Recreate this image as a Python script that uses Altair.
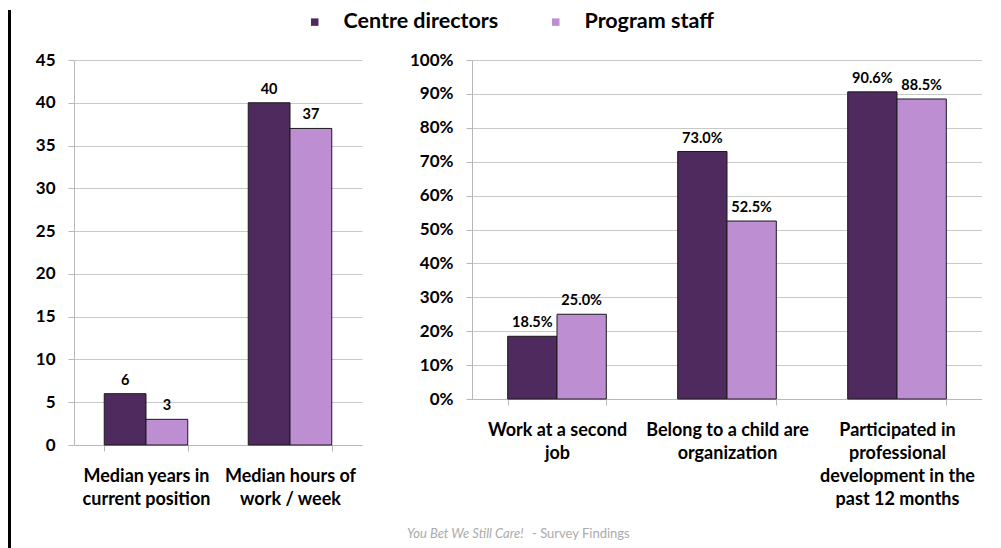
import altair as alt
import pandas as pd

FONT = "Lato"

series = ["Centre directors", "Program staff"]
colors = ["#4f2a5e", "#be8ed2"]

left_categories = ["Median years in|current position", "Median hours of|work / week"]
left_directors = [6, 40]
left_staff = [3, 37]
left_ticks = [0, 5, 10, 15, 20, 25, 30, 35, 40, 45]

right_categories = [
    "Work at a second|job",
    "Belong to a child are|organization",
    "Participated in|professional|development in the|past 12 months",
]
right_directors = [0.185, 0.730, 0.906]
right_staff = [0.250, 0.525, 0.885]
right_ticks = [0, 0.1, 0.2, 0.3, 0.4, 0.5, 0.6, 0.7, 0.8, 0.9, 1.0]

footer_italic = "You Bet We Still Care!"
footer_plain = "- Survey Findings"


def make_df(cats, a, b):
    rows = []
    for c, va, vb in zip(cats, a, b):
        rows.append({"category": c, "series": series[0], "value": va})
        rows.append({"category": c, "series": series[1], "value": vb})
    return pd.DataFrame(rows)


color_legend = alt.Legend(
    orient="none", legendX=230, legendY=-49, direction="horizontal", title=None,
    symbolType="square", symbolSize=56, symbolStrokeWidth=0, symbolOpacity=1,
    labelFont=FONT, labelFontSize=21.5, labelFontWeight="bold", labelColor="black",
    labelOffset=18, columnPadding=46, padding=0,
)


def panel(df, cats, ticks, dmax, fmt_axis, fmt_label):
    base = alt.Chart(df).encode(
        x=alt.X(
            "category:N", sort=cats,
            scale=alt.Scale(paddingInner=0.42, paddingOuter=0.21),
            axis=alt.Axis(title=None, labelAngle=0, labelExpr="split(datum.label, '|')",
                          tickBand="extent", labelLimit=400, labelOverlap=False),
        ),
        xOffset=alt.XOffset("series:N", sort=series,
                            scale=alt.Scale(paddingInner=0, paddingOuter=0)),
        y=alt.Y("value:Q", scale=alt.Scale(domain=[0, dmax], nice=False),
                axis=alt.Axis(title=None, values=ticks, format=fmt_axis)),
    )
    bars = base.mark_bar(stroke="#1a1a1a", strokeWidth=1).encode(
        color=alt.Color("series:N", scale=alt.Scale(domain=series, range=colors),
                        legend=color_legend)
    )
    labels = base.mark_text(dy=-9, baseline="alphabetic", font=FONT, fontSize=14.5,
                            fontWeight="bold", color="black").encode(
        text=alt.Text("value:Q", format=fmt_label)
    )
    return bars, labels


left_df = make_df(left_categories, left_directors, left_staff)
right_df = make_df(right_categories, right_directors, right_staff)

lb, ll = panel(left_df, left_categories, left_ticks, 45, "d", "d")
rb, rl = panel(right_df, right_categories, right_ticks, 1.0, ".0%", ".1%")

deco = pd.DataFrame({"k": [0]})
border = alt.Chart(deco).mark_rule(color="black", strokeWidth=3).encode(
    x=alt.value(-64.5), y=alt.value(-50), y2=alt.value(490)
)
foot1 = alt.Chart(deco).mark_text(
    text=footer_italic, font=FONT, fontSize=13, fontStyle="italic", color="#ababab",
    align="left", baseline="middle",
).encode(x=alt.value(-65), y=alt.value(474))
foot2 = alt.Chart(deco).mark_text(
    text=footer_plain, font=FONT, fontSize=13, color="#ababab",
    align="left", baseline="middle",
).encode(x=alt.value(60), y=alt.value(474))

left = alt.layer(lb, ll, border).properties(width=288, height=385)
right = alt.layer(rb, rl, foot1, foot2).properties(width=510, height=339)

chart = alt.hconcat(left, right, spacing=110, bounds="flush").resolve_scale(
    x="independent", xOffset="independent", y="independent"
).properties(
    padding=0
).configure_view(stroke=None).configure_axis(
    labelFont=FONT, labelFontWeight="bold", labelColor="black",
    gridColor="#c9c9c9", domainColor="#b8b8b8", tickColor="#b8b8b8", tickSize=6,
).configure_axisX(
    labelFontSize=18, labelLineHeight=23, labelPadding=16, grid=False,
).configure_axisY(
    labelFontSize=17, labelPadding=13, domain=True,
)

chart.save("out.html", embed_options={"renderer": "svg", "actions": False})
